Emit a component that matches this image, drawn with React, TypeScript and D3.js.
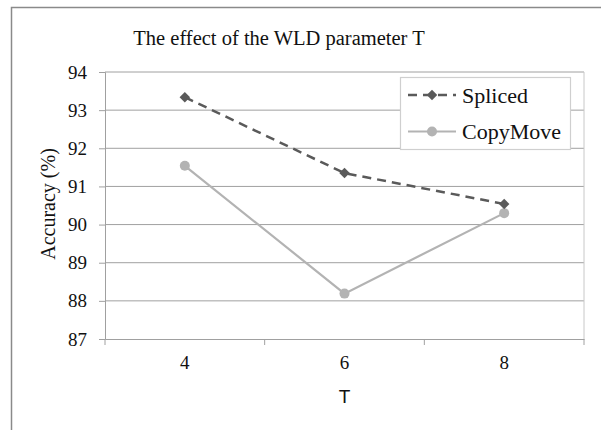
import React, { useEffect, useRef } from 'react';
import * as d3 from 'd3';

const categories = ['4', '6', '8'];
const spliced = [93.34, 91.35, 90.54];
const copyMove = [91.54, 88.19, 90.3];
const yTicks = [87, 88, 89, 90, 91, 92, 93, 94];
const seriesNames = ['Spliced', 'CopyMove'];

const SERIF = '"Liberation Serif", "Times New Roman", serif';
const SANS = '"Liberation Sans", Arial, sans-serif';

const App = () => {
  const chartRef = useRef<SVGSVGElement>(null);

  useEffect(() => {
    drawChart();
  }, []);

  const drawChart = () => {
    const width = 601;
    const height = 430;
    const margin = { left: 105, right: 17, top: 72, bottom: 91 };

    const svg = d3.select(chartRef.current)
      .attr('width', width)
      .attr('height', height)
      .style('position', 'absolute')
      .style('left', 0)
      .style('top', 0)
      .style('background', 'white')
      .style('font-family', SERIF);

    svg.selectAll('*').remove();

    // outer chart frame
    svg.append('rect')
      .attr('x', 11.5).attr('y', 7.5)
      .attr('width', 620).attr('height', 460)
      .attr('fill', 'none')
      .attr('stroke', '#8a8a8a')
      .attr('stroke-width', 1.5);

    const x = d3.scaleBand()
      .domain(categories)
      .range([margin.left, width - margin.right]);

    const y = d3.scaleLinear()
      .domain([87, 94])
      .range([height - margin.bottom, margin.top]);

    // gridlines
    svg.append('g')
      .selectAll('line')
      .data(yTicks.slice(1))
      .join('line')
      .attr('x1', margin.left)
      .attr('x2', width - margin.right)
      .attr('y1', d => y(d))
      .attr('y2', d => y(d))
      .attr('stroke', '#a0a0a0')
      .attr('stroke-width', 1);

    // plot area right border
    svg.append('line')
      .attr('x1', width - margin.right).attr('x2', width - margin.right)
      .attr('y1', margin.top).attr('y2', height - margin.bottom)
      .attr('stroke', '#c8c8c8');

    // y axis
    const yAxis = svg.append('g')
      .attr('transform', `translate(${margin.left},0)`)
      .call(d3.axisLeft(y).tickValues(yTicks).tickFormat(d3.format('d')).tickSize(6).tickPadding(12));
    yAxis.attr('font-family', null).attr('font-size', null);
    yAxis.select('.domain').attr('stroke', '#a0a0a0');
    yAxis.selectAll('.tick line').attr('stroke', '#a0a0a0');
    yAxis.selectAll('text')
      .style('font-size', '19px')
      .style('font-family', SERIF)
      .attr('fill', '#111');

    // x axis
    const xAxis = svg.append('g')
      .attr('transform', `translate(0,${height - margin.bottom})`)
      .call(d3.axisBottom(x).tickSize(0).tickPadding(17));
    xAxis.attr('font-family', null).attr('font-size', null);
    xAxis.select('.domain').attr('stroke', '#a0a0a0');
    xAxis.selectAll('text')
      .style('font-size', '19px')
      .style('font-family', SERIF)
      .attr('fill', '#111');
    // category boundary ticks
    svg.append('g')
      .selectAll('line')
      .data(categories.concat(['end']))
      .join('line')
      .attr('x1', (d, i) => margin.left + i * x.bandwidth())
      .attr('x2', (d, i) => margin.left + i * x.bandwidth())
      .attr('y1', height - margin.bottom)
      .attr('y2', height - margin.bottom + 6)
      .attr('stroke', '#a0a0a0');

    const cx = (d: string) => (x(d) as number) + x.bandwidth() / 2;

    const line = d3.line<number>()
      .x((d, i) => cx(categories[i]))
      .y(d => y(d));

    // CopyMove
    svg.append('path')
      .datum(copyMove)
      .attr('d', line)
      .attr('fill', 'none')
      .attr('stroke', '#b3b3b3')
      .attr('stroke-width', 2.2);
    svg.append('g')
      .selectAll('circle')
      .data(copyMove)
      .join('circle')
      .attr('cx', (d, i) => cx(categories[i]))
      .attr('cy', d => y(d))
      .attr('r', 5)
      .attr('fill', '#b3b3b3');

    // Spliced
    const diamond = d3.symbol().type(d3.symbolDiamond2).size(70);
    svg.append('path')
      .datum(spliced)
      .attr('d', line)
      .attr('fill', 'none')
      .attr('stroke', '#5a5a5a')
      .attr('stroke-width', 2.5)
      .attr('stroke-dasharray', '9,6');
    svg.append('g')
      .selectAll('path')
      .data(spliced)
      .join('path')
      .attr('d', diamond as any)
      .attr('transform', (d, i) => `translate(${cx(categories[i])},${y(d)})`)
      .attr('fill', '#5a5a5a');

    // legend
    const lg = svg.append('g');
    lg.append('rect')
      .attr('x', 400.5).attr('y', 77.5)
      .attr('width', 170).attr('height', 72)
      .attr('fill', 'white')
      .attr('stroke', '#cfcfcf')
      .attr('stroke-width', 1.2);
    const rows = [95, 131.5];
    seriesNames.forEach((name, i) => {
      const ry = rows[i];
      lg.append('line')
        .attr('x1', 408).attr('x2', 456)
        .attr('y1', ry).attr('y2', ry)
        .attr('stroke', i === 0 ? '#5a5a5a' : '#b3b3b3')
        .attr('stroke-width', i === 0 ? 2.5 : 2.2)
        .attr('stroke-dasharray', i === 0 ? '9,6' : null);
      if (i === 0) {
        lg.append('path')
          .attr('d', diamond as any)
          .attr('transform', `translate(432,${ry})`)
          .attr('fill', '#5a5a5a');
      } else {
        lg.append('circle')
          .attr('cx', 432).attr('cy', ry).attr('r', 5)
          .attr('fill', '#b3b3b3');
      }
      lg.append('text')
        .attr('x', 462).attr('y', ry + 7.5)
        .style('font-size', '22px')
        .attr('fill', '#111')
        .text(name);
    });

    // title
    svg.append('text')
      .attr('x', 279).attr('y', 45)
      .attr('text-anchor', 'middle')
      .style('font-size', '20.5px')
      .attr('fill', '#111')
      .text('The effect of the WLD parameter T');

    // axis titles
    svg.append('text')
      .attr('transform', 'translate(55,204) rotate(-90)')
      .attr('text-anchor', 'middle')
      .style('font-size', '20px')
      .attr('fill', '#111')
      .text('Accuracy (%)');

    svg.append('text')
      .attr('x', cx('6')).attr('y', 403)
      .attr('text-anchor', 'middle')
      .style('font-size', '19px')
      .style('font-family', SANS)
      .attr('fill', '#111')
      .text('T');
  };

  return <svg ref={chartRef}></svg>;
};

export default App;
